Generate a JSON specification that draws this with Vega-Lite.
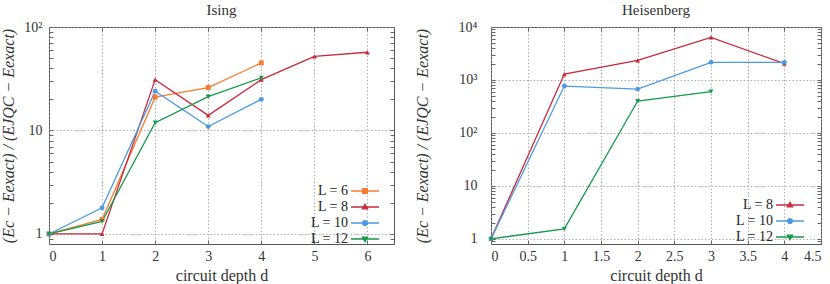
{
  "$schema": "https://vega.github.io/schema/vega-lite/v6.json",
  "padding": {"left": 0, "right": 9, "top": 2, "bottom": 0},
  "background": "white",
  "config": {
    "font": "Liberation Serif",
    "view": {"stroke": "#555", "strokeWidth": 1},
    "axis": {
      "labelFont": "Liberation Serif",
      "labelFontSize": 14,
      "labelColor": "#333",
      "titleFont": "Liberation Serif",
      "titleFontSize": 16,
      "titleFontWeight": "normal",
      "titleColor": "#333",
      "domain": false,
      "tickColor": "#666",
      "tickSize": -4,
      "gridColor": "#999",
      "gridDash": [1.5, 2],
      "gridWidth": 0.8
    },
    "legend": {
      "labelFont": "Liberation Serif",
      "labelFontSize": 14,
      "labelColor": "#222"
    },
    "title": {"font": "Liberation Serif", "fontSize": 15, "fontWeight": "normal", "color": "#333", "offset": 2}
  },
  "datasets": {
    "ising": [
      {"d": 0, "L": "L = 6", "v": 1},
      {"d": 1, "L": "L = 6", "v": 1.38},
      {"d": 2, "L": "L = 6", "v": 21},
      {"d": 3, "L": "L = 6", "v": 26},
      {"d": 4, "L": "L = 6", "v": 45},
      {"d": 0, "L": "L = 8", "v": 1},
      {"d": 1, "L": "L = 8", "v": 1},
      {"d": 2, "L": "L = 8", "v": 31},
      {"d": 3, "L": "L = 8", "v": 14},
      {"d": 4, "L": "L = 8", "v": 31},
      {"d": 5, "L": "L = 8", "v": 52},
      {"d": 6, "L": "L = 8", "v": 57},
      {"d": 0, "L": "L = 10", "v": 1},
      {"d": 1, "L": "L = 10", "v": 1.79},
      {"d": 2, "L": "L = 10", "v": 24},
      {"d": 3, "L": "L = 10", "v": 10.9},
      {"d": 4, "L": "L = 10", "v": 20},
      {"d": 0, "L": "L = 12", "v": 1},
      {"d": 1, "L": "L = 12", "v": 1.32},
      {"d": 2, "L": "L = 12", "v": 11.9},
      {"d": 3, "L": "L = 12", "v": 21.2},
      {"d": 4, "L": "L = 12", "v": 32.3}
    ],
    "heis": [
      {"d": 0, "L": "L = 8", "v": 1},
      {"d": 1, "L": "L = 8", "v": 1294},
      {"d": 2, "L": "L = 8", "v": 2344},
      {"d": 3, "L": "L = 8", "v": 6380},
      {"d": 4, "L": "L = 8", "v": 2028},
      {"d": 0, "L": "L = 10", "v": 1},
      {"d": 1, "L": "L = 10", "v": 767},
      {"d": 2, "L": "L = 10", "v": 673},
      {"d": 3, "L": "L = 10", "v": 2150},
      {"d": 4, "L": "L = 10", "v": 2150},
      {"d": 0, "L": "L = 12", "v": 1},
      {"d": 1, "L": "L = 12", "v": 1.55},
      {"d": 2, "L": "L = 12", "v": 400},
      {"d": 3, "L": "L = 12", "v": 600}
    ]
  },
  "spacing": 18,
  "hconcat": [
    {
      "width": 345,
      "height": 217,
      "title": {"text": "Ising"},
      "data": {"name": "ising"},
      "layer": [
        {
          "mark": {"type": "line", "strokeWidth": 1.3},
          "encoding": {
            "x": {
              "field": "d", "type": "quantitative",
              "scale": {"domain": [0, 6.5], "nice": false, "zero": false},
              "axis": {"orient": "bottom", "values": [0, 1, 2, 3, 4, 5, 6], "grid": true, "labelPadding": 9, "titlePadding": 4, "title": "circuit depth d"}
            },
            "y": {
              "field": "v", "type": "quantitative",
              "scale": {"type": "log", "domain": [0.8, 100], "nice": false},
              "axis": {
                "orient": "left",
                "values": [0.9, 1, 2, 3, 4, 5, 6, 7, 8, 9, 10, 20, 30, 40, 50, 60, 70, 80, 90, 100],
                "labelExpr": "datum.value==1?'1':datum.value==10?'10':datum.value==100?'10²':''",
                "grid": true,
                "gridOpacity": {"condition": {"test": "datum.value==1||datum.value==10||datum.value==100", "value": 1}, "value": 0},
                "labelPadding": 11,
                "titlePadding": 7,
                "titleFontStyle": "italic",
                "title": "(Ec − Eexact) / (EJQC − Eexact)"
              }
            },
            "color": {
              "field": "L", "type": "nominal",
              "scale": {"domain": ["L = 6", "L = 8", "L = 10", "L = 12"], "range": ["#f57c30", "#c72a3c", "#4c9be0", "#13994a"]},
              "legend": null
            }
          }
        },
        {
          "mark": {"type": "point", "filled": true, "opacity": 1, "size": 24},
          "encoding": {
            "x": {
              "field": "d", "type": "quantitative",
              "axis": {"orient": "top", "values": [0, 1, 2, 3, 4, 5, 6], "labels": false, "grid": false, "title": null}
            },
            "y": {
              "field": "v", "type": "quantitative",
              "axis": {"orient": "right", "values": [0.9, 1, 2, 3, 4, 5, 6, 7, 8, 9, 10, 20, 30, 40, 50, 60, 70, 80, 90, 100], "labels": false, "grid": false, "title": null}
            },
            "color": {
              "field": "L", "type": "nominal",
              "scale": {"domain": ["L = 6", "L = 8", "L = 10", "L = 12"], "range": ["#f57c30", "#c72a3c", "#4c9be0", "#13994a"]},
              "legend": null
            },
            "shape": {
              "field": "L", "type": "nominal",
              "scale": {"domain": ["L = 6", "L = 8", "L = 10", "L = 12"], "range": ["square", "triangle-up", "circle", "triangle-down"]},
              "legend": null
            }
          }
        },
        {
          "transform": [{"filter": "datum.d < 0"}],
          "mark": {"type": "point", "filled": true, "opacity": 1, "strokeWidth": 1.3},
          "encoding": {
            "x": {"field": "d", "type": "quantitative", "axis": null},
            "y": {"field": "v", "type": "quantitative", "axis": null},
            "color": {
              "field": "L", "type": "nominal",
              "scale": {"domain": ["L = 6", "L = 8", "L = 10", "L = 12"], "range": ["#f57c30", "#c72a3c", "#4c9be0", "#13994a"]},
              "legend": {"title": null, "orient": "none", "legendX": 309, "legendY": 157, "labelAlign": "right", "labelOffset": -24, "symbolSize": 16, "symbolStrokeWidth": 1.3, "symbolOpacity": 1}
            },
            "stroke": {
              "field": "L", "type": "nominal",
              "scale": {"domain": ["L = 6", "L = 8", "L = 10", "L = 12"], "range": ["#f57c30", "#c72a3c", "#4c9be0", "#13994a"]},
              "legend": {"title": null, "orient": "none", "legendX": 309, "legendY": 157, "labelAlign": "right", "labelOffset": -24, "symbolSize": 16, "symbolStrokeWidth": 1.3, "symbolOpacity": 1}
            },
            "shape": {
              "field": "L", "type": "nominal",
              "scale": {"domain": ["L = 6", "L = 8", "L = 10", "L = 12"], "range": [
                "M-7,0H7M-1.2,-1.2H1.2V1.2H-1.2Z",
                "M-7,0H7M0,-1.4L1.3,0.9H-1.3Z",
                "M-7,0H7M-1.2,0A1.2,1.2 0 1,0 1.2,0A1.2,1.2 0 1,0 -1.2,0Z",
                "M-7,0H7M0,1.4L1.3,-0.9H-1.3Z"
              ]},
              "legend": {"title": null, "orient": "none", "legendX": 309, "legendY": 157, "labelAlign": "right", "labelOffset": -24, "symbolSize": 16, "symbolStrokeWidth": 1.3, "symbolOpacity": 1}
            }
          }
        }
      ],
      "resolve": {"scale": {"color": "independent", "shape": "independent", "stroke": "independent"}, "axis": {"x": "independent", "y": "independent"}}
    },
    {
      "width": 330,
      "height": 217,
      "title": {"text": "Heisenberg"},
      "data": {"name": "heis"},
      "layer": [
        {
          "mark": {"type": "line", "strokeWidth": 1.3},
          "encoding": {
            "x": {
              "field": "d", "type": "quantitative",
              "scale": {"domain": [0, 4.5], "nice": false, "zero": false},
              "axis": {"orient": "bottom", "values": [0, 0.5, 1, 1.5, 2, 2.5, 3, 3.5, 4, 4.5], "format": "~g", "grid": true, "labelPadding": 9, "titlePadding": 4, "title": "circuit depth d"}
            },
            "y": {
              "field": "v", "type": "quantitative",
              "scale": {"type": "log", "domain": [0.8, 10000], "nice": false},
              "axis": {
                "orient": "left",
                "values": [0.9, 1, 2, 3, 4, 5, 6, 7, 8, 9, 10, 20, 30, 40, 50, 60, 70, 80, 90, 100, 200, 300, 400, 500, 600, 700, 800, 900, 1000, 2000, 3000, 4000, 5000, 6000, 7000, 8000, 9000, 10000],
                "labelExpr": "datum.value==1?'1':datum.value==10?'10':datum.value==100?'10²':datum.value==1000?'10³':datum.value==10000?'10⁴':''",
                "grid": true,
                "gridOpacity": {"condition": {"test": "datum.value==1||datum.value==10||datum.value==100||datum.value==1000||datum.value==10000", "value": 1}, "value": 0},
                "labelPadding": 18,
                "titlePadding": 28,
                "titleFontStyle": "italic",
                "title": "(Ec − Eexact) / (EJQC − Eexact)"
              }
            },
            "color": {
              "field": "L", "type": "nominal",
              "scale": {"domain": ["L = 8", "L = 10", "L = 12"], "range": ["#c72a3c", "#4c9be0", "#13994a"]},
              "legend": null
            }
          }
        },
        {
          "mark": {"type": "point", "filled": true, "opacity": 1, "size": 24},
          "encoding": {
            "x": {
              "field": "d", "type": "quantitative",
              "axis": {"orient": "top", "values": [0, 0.5, 1, 1.5, 2, 2.5, 3, 3.5, 4, 4.5], "labels": false, "grid": false, "title": null}
            },
            "y": {
              "field": "v", "type": "quantitative",
              "axis": {"orient": "right", "values": [0.9, 1, 2, 3, 4, 5, 6, 7, 8, 9, 10, 20, 30, 40, 50, 60, 70, 80, 90, 100, 200, 300, 400, 500, 600, 700, 800, 900, 1000, 2000, 3000, 4000, 5000, 6000, 7000, 8000, 9000, 10000], "labels": false, "grid": false, "title": null}
            },
            "color": {
              "field": "L", "type": "nominal",
              "scale": {"domain": ["L = 8", "L = 10", "L = 12"], "range": ["#c72a3c", "#4c9be0", "#13994a"]},
              "legend": null
            },
            "shape": {
              "field": "L", "type": "nominal",
              "scale": {"domain": ["L = 8", "L = 10", "L = 12"], "range": ["triangle-up", "circle", "triangle-down"]},
              "legend": null
            }
          }
        },
        {
          "transform": [{"filter": "datum.d < 0"}],
          "mark": {"type": "point", "filled": true, "opacity": 1, "strokeWidth": 1.3},
          "encoding": {
            "x": {"field": "d", "type": "quantitative", "axis": null},
            "y": {"field": "v", "type": "quantitative", "axis": null},
            "color": {
              "field": "L", "type": "nominal",
              "scale": {"domain": ["L = 8", "L = 10", "L = 12"], "range": ["#c72a3c", "#4c9be0", "#13994a"]},
              "legend": {"title": null, "orient": "none", "legendX": 292, "legendY": 171, "labelAlign": "right", "labelOffset": -24, "symbolSize": 16, "symbolStrokeWidth": 1.3, "symbolOpacity": 1}
            },
            "stroke": {
              "field": "L", "type": "nominal",
              "scale": {"domain": ["L = 8", "L = 10", "L = 12"], "range": ["#c72a3c", "#4c9be0", "#13994a"]},
              "legend": {"title": null, "orient": "none", "legendX": 292, "legendY": 171, "labelAlign": "right", "labelOffset": -24, "symbolSize": 16, "symbolStrokeWidth": 1.3, "symbolOpacity": 1}
            },
            "shape": {
              "field": "L", "type": "nominal",
              "scale": {"domain": ["L = 8", "L = 10", "L = 12"], "range": [
                "M-7,0H7M0,-1.4L1.3,0.9H-1.3Z",
                "M-7,0H7M-1.2,0A1.2,1.2 0 1,0 1.2,0A1.2,1.2 0 1,0 -1.2,0Z",
                "M-7,0H7M0,1.4L1.3,-0.9H-1.3Z"
              ]},
              "legend": {"title": null, "orient": "none", "legendX": 292, "legendY": 171, "labelAlign": "right", "labelOffset": -24, "symbolSize": 16, "symbolStrokeWidth": 1.3, "symbolOpacity": 1}
            }
          }
        }
      ],
      "resolve": {"scale": {"color": "independent", "shape": "independent", "stroke": "independent"}, "axis": {"x": "independent", "y": "independent"}}
    }
  ],
  "resolve": {"scale": {"color": "independent", "shape": "independent", "stroke": "independent", "x": "independent", "y": "independent"}, "legend": {"color": "independent", "shape": "independent", "stroke": "independent"}}
}
